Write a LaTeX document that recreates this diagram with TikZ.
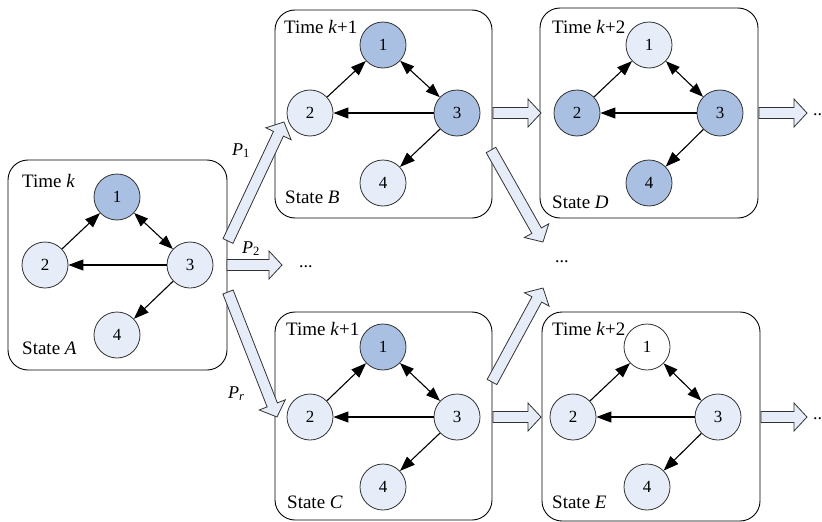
\documentclass[tikz,border=0pt]{standalone}
\usepackage{fontspec}
\setmainfont{Liberation Serif}
\usetikzlibrary{calc,arrows.meta}
\definecolor{dk}{HTML}{AAC0E2}
\definecolor{lt}{HTML}{E6EDF8}
\definecolor{ln}{HTML}{333333}
\tikzset{
 st/.style={circle,draw=ln,line width=0.8pt,minimum size=46pt,inner sep=0pt,font=\fontsize{17}{19}\selectfont},
 dkn/.style={st,fill=dk}, ltn/.style={st,fill=lt}, whn/.style={st,fill=white},
 frame/.style={draw=black,line width=0.9pt,rounded corners=20pt,fill=white,inner sep=0pt},
 lbl/.style={anchor=base west,inner sep=0pt,font=\fontsize{19}{21}\selectfont},
 plbl/.style={anchor=base west,inner sep=0pt,font=\fontsize{18}{20}\selectfont},
 edge/.style={line width=1.1pt,-{Triangle[length=15pt,width=11pt]}},
 dedge/.style={line width=1.1pt,{Triangle[length=14pt,width=10.5pt]}-{Triangle[length=14pt,width=10.5pt]}},
 barrow/.style={draw=ln,line width=0.8pt,fill=lt,line join=miter},
}
\newcommand\bigarrow[2]{%
 \draw[barrow] let \p1=($(#2)-(#1)$), \n1={atan2(\y1,\x1)}, \n2={veclen(\x1,\y1)} in
 ([shift={(#1)},rotate=\n1]0pt,5.5pt) -- ([shift={(#1)},rotate=\n1]{\n2-13pt},5.5pt) --
 ([shift={(#1)},rotate=\n1]{\n2-13pt},14pt) -- ([shift={(#1)},rotate=\n1]{\n2},0pt) --
 ([shift={(#1)},rotate=\n1]{\n2-13pt},-14pt) -- ([shift={(#1)},rotate=\n1]{\n2-13pt},-5.5pt) --
 ([shift={(#1)},rotate=\n1]0pt,-5.5pt) -- cycle;}
\newcommand\graphedges[1]{%
 \draw[edge] (#1-2) -- (#1-1);
 \draw[dedge] (#1-1) -- (#1-3);
 \draw[edge] (#1-3) -- (#1-2);
 \draw[edge] (#1-3) -- (#1-4);}
\begin{document}
\begin{tikzpicture}[x=1pt,y=-1pt]
\useasboundingbox[fill=white] (0,0) rectangle (822,522);
% frames
\node[frame,minimum width=219pt,minimum height=210pt] (boxA) at (117.5,265) {};
\node[frame,minimum width=217pt,minimum height=208pt] (boxB) at (383.5,114) {};
\node[frame,minimum width=218pt,minimum height=210pt] (boxD) at (649,113) {};
\node[frame,minimum width=217pt,minimum height=208pt] (boxC) at (383.5,416) {};
\node[frame,minimum width=218pt,minimum height=209pt] (boxE) at (651,416.5) {};
% labels
\node[lbl] (tA) at (22,187) {Time \textit{k}};
\node[lbl] (sA) at (22,354) {State \textit{A}};
\node[lbl] (tB) at (284,34) {Time \textit{k}+1};
\node[lbl] (sB) at (285,203) {State \textit{B}};
\node[lbl] (tD) at (552,33) {Time \textit{k}+2};
\node[lbl] (sD) at (552,208) {State \textit{D}};
\node[lbl] (tC) at (286,335) {Time \textit{k}+1};
\node[lbl] (sC) at (287,508) {State \textit{C}};
\node[lbl] (tE) at (552,335) {Time \textit{k}+2};
\node[lbl] (sE) at (552,508) {State \textit{E}};
% state A
\node[dkn] (A-1) at (117,197) {1};
\node[ltn] (A-2) at (45,265) {2};
\node[ltn] (A-3) at (190,265) {3};
\node[ltn] (A-4) at (117,335) {4};
% state B
\node[dkn] (B-1) at (383,45) {1};
\node[ltn] (B-2) at (310,113) {2};
\node[dkn] (B-3) at (457,113) {3};
\node[ltn] (B-4) at (383,183) {4};
% state D
\node[ltn] (D-1) at (649,45) {1};
\node[dkn] (D-2) at (577,113) {2};
\node[dkn] (D-3) at (720,113) {3};
\node[dkn] (D-4) at (649,183) {4};
% state C
\node[dkn] (C-1) at (383,347) {1};
\node[ltn] (C-2) at (310,417) {2};
\node[ltn] (C-3) at (457,417) {3};
\node[ltn] (C-4) at (383,487) {4};
% state E
\node[whn] (E-1) at (647,347) {1};
\node[ltn] (E-2) at (573,417) {2};
\node[ltn] (E-3) at (718,417) {3};
\node[ltn] (E-4) at (647,487) {4};
\graphedges{A}\graphedges{B}\graphedges{D}\graphedges{C}\graphedges{E}
% ellipses
\node[plbl] (dP2) at (299,267) {...};
\node[plbl] (dMid) at (555,262) {...};
\node[plbl] (dD) at (813,115) {...};
\node[plbl] (dE) at (813,419) {...};
% big arrow end points
\coordinate (p1s) at (228,241); \coordinate (p1e) at (284,122);
\coordinate (p2s) at (227,265); \coordinate (p2e) at (282,265);
\coordinate (prs) at (228,292); \coordinate (pre) at (277,417);
\coordinate (bds) at (493,113); \coordinate (bde) at (541,113);
\coordinate (dxs) at (759,113); \coordinate (dxe) at (807,113);
\coordinate (bms) at (491,150); \coordinate (bme) at (543,242);
\coordinate (cms) at (492,382); \coordinate (cme) at (543,288);
\coordinate (ces) at (493,417); \coordinate (cee) at (541,417);
\coordinate (exs) at (761,417); \coordinate (exe) at (807,417);
\bigarrow{p1s}{p1e}
\bigarrow{p2s}{p2e}
\bigarrow{prs}{pre}
\bigarrow{bds}{bde}
\bigarrow{dxs}{dxe}
\bigarrow{bms}{bme}
\bigarrow{cms}{cme}
\bigarrow{ces}{cee}
\bigarrow{exs}{exe}
% probability labels
\node[plbl] (P1) at (232,155) {\textit{P}\textsubscript{1}};
\node[plbl] (P2) at (242,253) {\textit{P}\textsubscript{2}};
\node[plbl] (Pr) at (228,398) {\textit{P}\textsubscript{\textit{r}}};
\end{tikzpicture}
\end{document}
